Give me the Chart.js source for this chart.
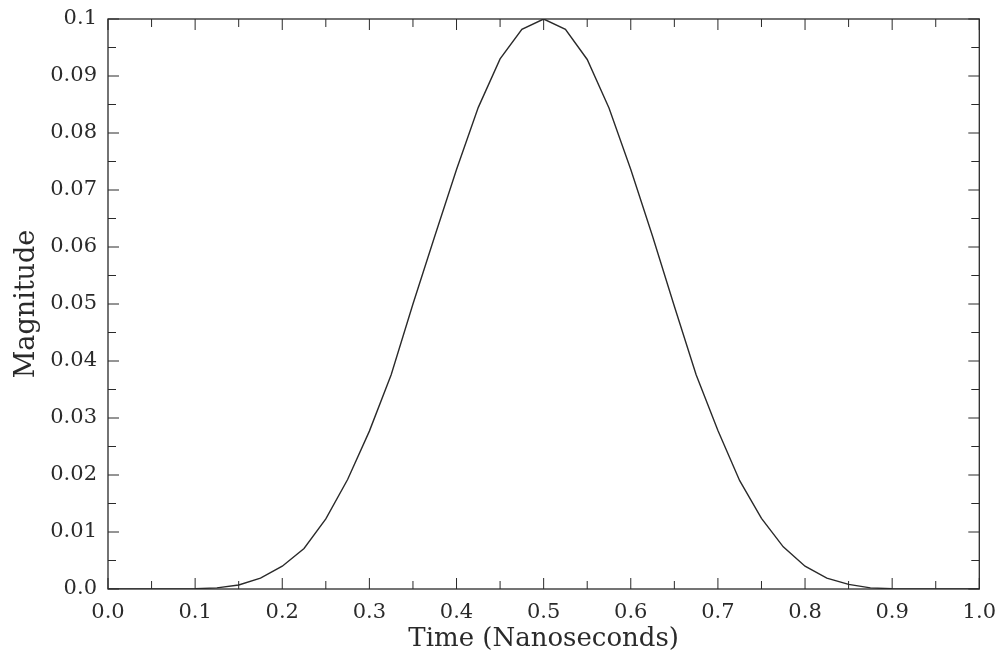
<!DOCTYPE html>
<html>
<head>
<meta charset="utf-8">
<script src="https://cdn.jsdelivr.net/npm/chart.js@4.4.1/dist/chart.umd.min.js"></script>
<style>
  html, body { margin: 0; padding: 0; background: #fff; }
  #wrap { width: 999px; height: 659px; }
</style>
</head>
<body>
<div id="wrap"><canvas id="pulseChart"></canvas></div>
<script>
// time samples (ns) and pulse magnitude
const times = [
  0.0, 0.025, 0.05, 0.075, 0.1, 0.125, 0.15, 0.175, 0.2, 0.225,
  0.25, 0.275, 0.3, 0.325, 0.35, 0.375, 0.4, 0.425, 0.45, 0.475,
  0.5, 0.525, 0.55, 0.575, 0.6, 0.625, 0.65, 0.675, 0.7, 0.725,
  0.75, 0.775, 0.8, 0.825, 0.85, 0.875, 0.9, 0.925, 0.95, 0.975, 1.0,
];
const magnitude = [
  0.0, 0.0, 0.0, 0.0, 0.00005, 0.0002, 0.0007, 0.0019, 0.0040, 0.0071,
  0.0123, 0.0192, 0.0277, 0.0376, 0.0500, 0.0619, 0.0736, 0.0845, 0.0930, 0.0982,
  0.1000, 0.0982, 0.0929, 0.0844, 0.0736, 0.0619, 0.0496, 0.0376, 0.0278, 0.0190,
  0.0124, 0.0074, 0.0040, 0.0019, 0.0008, 0.0002, 0.00005, 0.0, 0.0, 0.0, 0.0,
];
const xTickLabels = ['0.0', '0.1', '0.2', '0.3', '0.4', '0.5', '0.6', '0.7', '0.8', '0.9', '1.0'];
const yTickLabels = ['0.0', '0.01', '0.02', '0.03', '0.04', '0.05', '0.06', '0.07', '0.08', '0.09', '0.1'];

const INK = '#2a2a2a';
const FONT = '"DejaVu Serif", "Liberation Serif", serif';

// inward tick marks on all four sides, plus the frame
const frameTicks = {
  id: 'frameTicks',
  afterDatasetsDraw(chart) {
    const { ctx, chartArea: a, scales: { x, y } } = chart;
    ctx.save();
    ctx.strokeStyle = INK;
    ctx.lineWidth = 1.3;
    ctx.strokeRect(a.left, a.top, a.right - a.left, a.bottom - a.top);
    ctx.lineWidth = 1;
    ctx.beginPath();
    for (let i = 0; i <= 20; i++) {
      const px = x.getPixelForValue(i * 0.05);
      const len = i % 2 === 0 ? 11 : 8;
      ctx.moveTo(px, a.bottom); ctx.lineTo(px, a.bottom - len);
      ctx.moveTo(px, a.top); ctx.lineTo(px, a.top + len);
    }
    for (let i = 0; i <= 20; i++) {
      const py = y.getPixelForValue(i * 0.005);
      const len = i % 2 === 0 ? 11 : 8;
      ctx.moveTo(a.left, py); ctx.lineTo(a.left + len, py);
      ctx.moveTo(a.right, py); ctx.lineTo(a.right - len, py);
    }
    ctx.stroke();
    ctx.restore();
  },
};

new Chart(document.getElementById('pulseChart'), {
  type: 'line',
  data: {
    datasets: [{
      data: times.map((t, i) => ({ x: t, y: magnitude[i] })),
      borderColor: INK,
      borderWidth: 1.4,
      pointRadius: 0,
      tension: 0,
      fill: false,
    }],
  },
  options: {
    responsive: true,
    maintainAspectRatio: false,
    animation: false,
    layout: { padding: { top: 19, right: 18, left: 0, bottom: 0 } },
    plugins: { legend: { display: false }, tooltip: { enabled: false } },
    scales: {
      x: {
        type: 'linear', min: 0, max: 1,
        grid: { display: false },
        border: { display: false },
        ticks: {
          stepSize: 0.1, padding: 3, color: INK, maxRotation: 0,
          font: { family: FONT, size: 21 },
          callback: v => xTickLabels[Math.round(v * 10)],
        },
        title: {
          display: true, text: 'Time (Nanoseconds)', color: INK, padding: { top: 0, bottom: 4 },
          font: { family: FONT, size: 26 },
        },
        afterFit: s => { s.height = 70; },
      },
      y: {
        min: 0, max: 0.1,
        grid: { display: false },
        border: { display: false },
        ticks: {
          stepSize: 0.01, padding: 3, color: INK,
          font: { family: FONT, size: 21 },
          callback: v => yTickLabels[Math.round(v * 100)],
        },
        title: {
          display: true, text: 'Magnitude', color: INK, padding: { top: 11, bottom: 4 },
          font: { family: FONT, size: 27 },
        },
        afterFit: s => { s.width = 108; },
      },
    },
  },
  plugins: [frameTicks],
});
</script>
</body>
</html>
